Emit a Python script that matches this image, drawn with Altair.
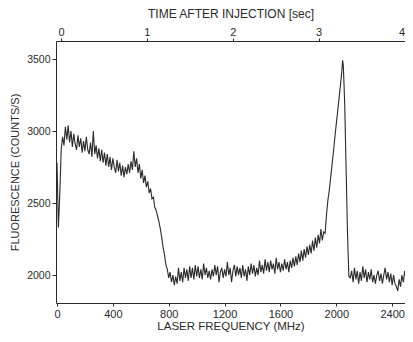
import altair as alt
import pandas as pd

# Laser frequency (MHz) and fluorescence (counts/s)
freq_mhz = [
    0, 10, 20, 30, 40, 50, 60, 70, 80, 90, 100,
    110, 120, 130, 140, 150, 160, 170, 180, 190, 200,
    210, 220, 230, 240, 250, 260, 270, 280, 290, 300,
    310, 320, 330, 340, 350, 360, 370, 380, 390, 400,
    410, 420, 430, 440, 450, 460, 470, 480, 490, 500,
    510, 520, 530, 540, 550, 560, 570, 580, 590, 600,
    610, 620, 630, 640, 650, 660, 670, 680, 690, 700,
    710, 720, 730, 740, 750, 760, 770, 780, 790, 800,
    810, 820, 830, 840, 850, 860, 870, 880, 890, 900,
    910, 920, 930, 940, 950, 960, 970, 980, 990, 1000,
    1010, 1020, 1030, 1040, 1050, 1060, 1070, 1080, 1090, 1100,
    1110, 1120, 1130, 1140, 1150, 1160, 1170, 1180, 1190, 1200,
    1210, 1220, 1230, 1240, 1250, 1260, 1270, 1280, 1290, 1300,
    1310, 1320, 1330, 1340, 1350, 1360, 1370, 1380, 1390, 1400,
    1410, 1420, 1430, 1440, 1450, 1460, 1470, 1480, 1490, 1500,
    1510, 1520, 1530, 1540, 1550, 1560, 1570, 1580, 1590, 1600,
    1610, 1620, 1630, 1640, 1650, 1660, 1670, 1680, 1690, 1700,
    1710, 1720, 1730, 1740, 1750, 1760, 1770, 1780, 1790, 1800,
    1810, 1820, 1830, 1840, 1850, 1860, 1870, 1880, 1890, 1900,
    1910, 1920, 1930, 1940, 1950, 1960, 1970, 1980, 1990, 2000,
    2010, 2020, 2030, 2040, 2045, 2050, 2060, 2070, 2080, 2090, 2100,
    2110, 2120, 2130, 2140, 2150, 2160, 2170, 2180, 2190, 2200,
    2210, 2220, 2230, 2240, 2250, 2260, 2270, 2280, 2290, 2300,
    2310, 2320, 2330, 2340, 2350, 2360, 2370, 2380, 2390, 2400,
    2410, 2420, 2430, 2440, 2450, 2460, 2470, 2480, 2490, 2500,
    2510,
]

counts = [
    2780, 2330, 2560, 2870, 2960, 2900, 3030, 2940, 3040, 2920, 3000,
    2890, 2980, 2910, 2870, 2970, 2890, 2950, 2850, 2930, 2860,
    2960, 2870, 2840, 2920, 2820, 3000, 2840, 2900, 2810, 2880,
    2790, 2870, 2780, 2850, 2760, 2840, 2750, 2820, 2730, 2810,
    2750, 2710, 2800, 2720, 2780, 2690, 2760, 2680, 2750, 2700,
    2770, 2710, 2790, 2730, 2860, 2750, 2810, 2710, 2770, 2670,
    2730, 2640, 2690, 2610, 2650, 2570, 2600, 2530, 2540, 2470,
    2450, 2410, 2370, 2320, 2260, 2190, 2140, 2070, 2040, 1980,
    2020, 1950, 2000, 1930, 1990, 1940, 2050, 1960, 2020, 1950,
    2050, 1980, 2040, 1960, 2060, 1980, 2050, 1970, 2070, 1990,
    2060, 1980, 2040, 1970, 2080, 2000, 2050, 1980, 2030, 1970,
    2040, 1990, 2070, 2000, 2060, 1950, 2020, 2050, 1980, 2040,
    1990, 2090, 2000, 2050, 1950, 2030, 2070, 1990, 2060, 2000,
    2050, 1980, 2070, 1990, 2040, 1960, 2060, 2000, 2080, 2010,
    2070, 1990, 2050, 2000, 2100, 2020, 2070, 2010, 2110, 2030,
    2090, 2020, 2100, 2040, 2080, 2010, 2120, 2040, 2090, 2020,
    2080, 2030, 2110, 2040, 2090, 2020, 2100, 2050, 2120, 2060,
    2130, 2070, 2150, 2090, 2170, 2100, 2180, 2120, 2200, 2140,
    2210, 2150, 2240, 2170, 2260, 2190, 2280, 2220, 2320, 2240,
    2300, 2290, 2420, 2520, 2590, 2680, 2770, 2860, 2960, 3050,
    3140, 3230, 3320, 3420, 3490, 3460, 3200, 2750, 2300, 1990, 1980,
    2030, 1950, 2050, 1970, 2030, 1940, 2020, 1960, 2060, 1980,
    2040, 1950, 2020, 1970, 2040, 1950, 2000, 1940, 2000, 2030,
    1960, 2010, 1940, 2000, 2050, 1970, 2020, 1950, 2010, 1930,
    2000, 1940, 1920, 1890, 1970, 1920, 2000, 1950, 2030, 1970,
    2040,
]

freq_ticks = [0, 400, 800, 1200, 1600, 2000, 2400]
count_ticks = [2000, 2500, 3000, 3500]
time_ticks = [0, 1, 2, 3, 4]

FONT = "Liberation Sans"
INK = "#2a2a2a"

trace = pd.DataFrame({"freq": freq_mhz, "counts": counts})
top = pd.DataFrame({"sec": time_ticks})

line = alt.Chart(trace).mark_line(color=INK, strokeWidth=1.1, clip=True).encode(
    x=alt.X(
        "freq:Q",
        scale=alt.Scale(domain=[-7.2, 2492], nice=False, zero=False),
        axis=alt.Axis(
            orient="bottom", values=freq_ticks, format="d",
            title="LASER FREQUENCY (MHz)",
            grid=False, tickSize=3, labelPadding=2, titlePadding=1,
            labelFontSize=11, titleFontSize=11.5, titleFontWeight="normal",
            labelFont=FONT, titleFont=FONT, labelColor=INK, titleColor=INK,
            domainColor=INK, tickColor=INK, labelFlush=False,
        ),
    ),
    y=alt.Y(
        "counts:Q",
        scale=alt.Scale(domain=[1806, 3625], nice=False, zero=False),
        axis=alt.Axis(
            values=count_ticks, format="d", title="FLUORESCENCE (COUNTS/S)",
            grid=False, tickSize=4, labelPadding=2, titlePadding=6,
            labelFontSize=10.5, titleFontSize=11, titleFontWeight="normal",
            labelFont=FONT, titleFont=FONT, labelColor=INK, titleColor=INK,
            domainColor=INK, tickColor=INK,
        ),
    ),
)

top_axis = alt.Chart(top).mark_rule(opacity=0).encode(
    x=alt.X(
        "sec:Q",
        scale=alt.Scale(domain=[-0.058, 4.005], nice=False, zero=False),
        axis=alt.Axis(
            orient="top", values=time_ticks, format="d",
            title="TIME AFTER INJECTION [sec]",
            grid=False, tickSize=3, labelPadding=1, titlePadding=6,
            labelFontSize=11, titleFontSize=12, titleFontWeight="normal",
            labelFont=FONT, titleFont=FONT, labelColor=INK, titleColor=INK,
            domainColor=INK, tickColor=INK, labelFlush=2,
        ),
    ),
)

chart = (
    alt.layer(line, top_axis)
    .resolve_scale(x="independent")
    .properties(
        width=349,
        height=262,
        autosize="none",
        padding={"left": 48, "top": 33, "right": 0, "bottom": 31},
        background="white",
    )
    .configure_view(stroke=None)
)

chart.save("out.html", embed_options={"renderer": "svg", "actions": False})
